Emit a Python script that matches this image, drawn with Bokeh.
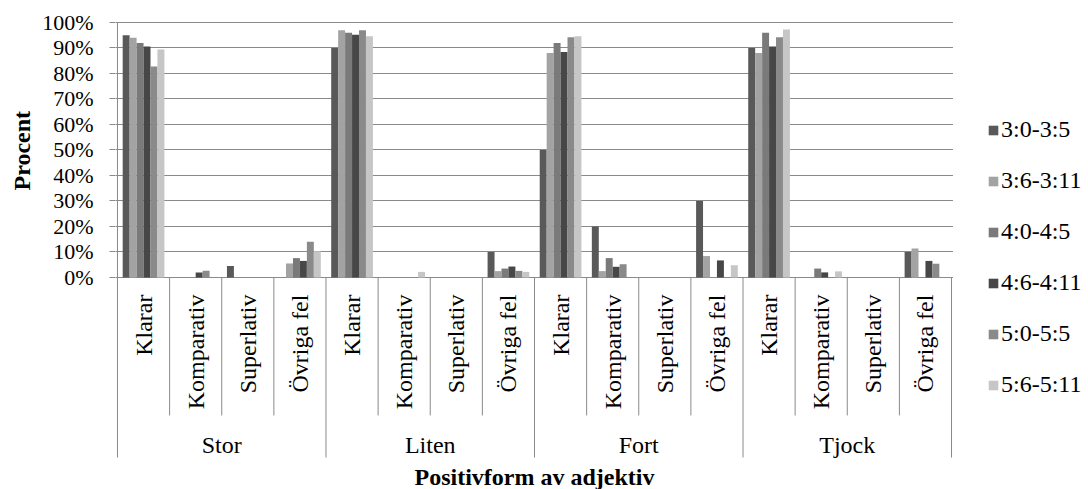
import math
from bokeh.plotting import figure
from bokeh.layouts import row
from bokeh.models import (FactorRange, Range1d, ColumnDataSource, FixedTicker,
                          PrintfTickFormatter, Legend, LegendItem, Title)
from bokeh.transform import dodge
from bokeh.core.properties import value
from bokeh.embed import file_html
from bokeh.resources import INLINE

# ---------------- data ----------------
adjectives = ["Stor", "Liten", "Fort", "Tjock"]
outcomes = ["Klarar", "Komparativ", "Superlativ", "Övriga fel"]
age_groups = ["3:0-3:5", "3:6-3:11", "4:0-4:5", "4:6-4:11", "5:0-5:5", "5:6-5:11"]

# Percent per age group; order: Stor(Klarar, Komparativ, Superlativ, Övriga fel), Liten(...), Fort(...), Tjock(...)
age_3_0 = [95.0, 0.0, 4.5, 0.0,   90.0, 0.0, 0.0, 10.0,  50.0, 20.0, 0.0, 30.0,  90.0, 0.0, 0.0, 10.0]
age_3_6 = [94.0, 0.0, 0.0, 5.5,   97.0, 0.0, 0.0, 2.5,   88.0, 2.5, 0.0, 8.4,    88.0, 0.0, 0.0, 11.4]
age_4_0 = [92.0, 0.0, 0.0, 7.6,   96.0, 0.0, 0.0, 3.5,   92.0, 7.6, 0.0, 0.0,    96.0, 3.5, 0.0, 0.0]
age_4_6 = [90.6, 2.0, 0.0, 6.5,   95.2, 0.0, 0.0, 4.3,   88.4, 4.2, 0.0, 6.7,    90.6, 2.0, 0.0, 6.5]
age_5_0 = [82.7, 2.6, 0.0, 14.0,  97.0, 0.0, 0.0, 2.6,   94.2, 5.2, 0.0, 0.0,    94.2, 0.0, 0.0, 5.4]
age_5_6 = [89.4, 0.0, 0.0, 10.3,  94.6, 2.2, 0.0, 2.2,   94.6, 0.0, 0.0, 4.8,    97.3, 2.4, 0.0, 0.0]
series = [age_3_0, age_3_6, age_4_0, age_4_6, age_5_0, age_5_6]

tick_values = [0, 10, 20, 30, 40, 50, 60, 70, 80, 90, 100]
y_title = "Procent"
x_title = "Positivform av adjektiv"

# ---------------- styles ----------------
colors = ["#595959", "#a3a3a3", "#7a7a7a", "#474747", "#8a8a8a", "#c6c6c6"]
line_gray = "#8a8a8a"
FONT = "Liberation Serif, Times New Roman, Times, serif"

factors = [(a, o) for a in adjectives for o in outcomes]

x_range = FactorRange(factors=factors, factor_padding=0, group_padding=0,
                      subgroup_padding=0, range_padding=0.038,
                      range_padding_units="absolute")

p = figure(x_range=x_range, y_range=Range1d(-83.14, 100.39),
           width=953, height=489, x_axis_location=None,
           output_backend="svg", toolbar_location=None,
           min_border_left=115, min_border_right=0,
           min_border_top=21, min_border_bottom=0)
p.outline_line_color = None
p.background_fill_color = "white"
p.border_fill_color = "white"

# bars
n = len(series)
group_width = 0.8
bw = group_width / n
for i, vals in enumerate(series):
    src = ColumnDataSource(dict(x=factors, top=vals))
    off = -group_width / 2 + bw / 2 + i * bw
    p.vbar(x=dodge("x", off, range=p.x_range), top="top", bottom=0,
           width=bw, source=src, fill_color=colors[i], line_color=None)

# y axis & grid
ticker = FixedTicker(ticks=tick_values, minor_ticks=[])
p.yaxis.ticker = ticker
p.ygrid.ticker = ticker
p.yaxis.formatter = PrintfTickFormatter(format="%d%%")
p.yaxis.axis_line_color = None
p.yaxis.major_tick_line_color = line_gray
p.yaxis.major_tick_in = 0
p.yaxis.major_tick_out = 6
p.yaxis.minor_tick_line_color = None
p.yaxis.major_label_text_font = FONT
p.yaxis.major_label_text_font_size = "22px"
p.yaxis.major_label_text_color = "black"
p.yaxis.major_label_standoff = 16
p.ygrid.grid_line_color = line_gray
p.ygrid.grid_line_width = 1
p.xgrid.visible = False

# category separators (left edge of each category) + left axis line
sep_y0 = []
sep_y1 = []
for a, o in factors:
    first = (o == outcomes[0])
    sep_y1.append(-70.6 if first else -54.1)
    sep_y0.append(100.0 if (a, o) == factors[0] else 0.0)
sep_src = ColumnDataSource(dict(x=factors, y0=sep_y0, y1=sep_y1))
p.segment(x0=dodge("x", -0.5, range=p.x_range), y0="y0",
          x1=dodge("x", -0.5, range=p.x_range), y1="y1",
          source=sep_src, line_color=line_gray, line_width=1)
end_src = ColumnDataSource(dict(x=[factors[-1]], y0=[0.0], y1=[-70.6]))
p.segment(x0=dodge("x", 0.5, range=p.x_range), y0="y0",
          x1=dodge("x", 0.5, range=p.x_range), y1="y1",
          source=end_src, line_color=line_gray, line_width=1)

# category labels
lab_src = ColumnDataSource(dict(x=factors, label=[o for a, o in factors]))
p.text(x="x", y=-6.7, text="label", source=lab_src, angle=math.pi / 2,
       text_align="right", text_baseline="middle",
       text_font=value(FONT), text_font_size="24px", text_color="black")

# group labels
grp_src = ColumnDataSource(dict(x=adjectives, label=adjectives))
p.text(x="x", y=-65.5, text="label", source=grp_src,
       text_align="center", text_baseline="middle",
       text_font=value(FONT), text_font_size="24px", text_color="black")

# x title (centered on the boundary between the 2nd and 3rd group)
xt_src = ColumnDataSource(dict(x=[(adjectives[2], outcomes[0])], label=[x_title]))
p.text(x=dodge("x", -0.5, range=p.x_range), y=-78.4, text="label", source=xt_src,
       text_align="center", text_baseline="middle",
       text_font=value(FONT), text_font_size="24px", text_font_style="bold",
       text_color="black")

# y title
p.add_layout(Title(text=y_title, align="left", offset=299,
                   text_font=FONT, text_font_size="24px", text_font_style="bold",
                   text_color="black"), "left")

# legend (separate narrow panel to the right of the plot)
lg = figure(width=135, height=489, x_axis_location=None, y_axis_location=None,
            x_range=Range1d(10, 11), y_range=Range1d(10, 11),
            output_backend="svg", toolbar_location=None,
            min_border_left=0, min_border_right=0, min_border_top=0, min_border_bottom=0)
lg.outline_line_color = None
lg.grid.visible = False
lg_renderers = []
for i in range(n):
    # swatch-only renderer (zero-height bar kept outside the visible range)
    lg_renderers.append(lg.vbar(x=[0], top=[0], bottom=[0], width=0.5,
                                fill_color=colors[i], line_color=None))
legend = Legend(items=[LegendItem(label=g, renderers=[r]) for g, r in zip(age_groups, lg_renderers)],
                location=(34, 91), orientation="vertical",
                glyph_width=12, glyph_height=12, label_standoff=2,
                spacing=24, label_height=24, padding=0, margin=0,
                border_line_color=None, background_fill_alpha=0,
                label_text_font=FONT, label_text_font_size="24px",
                label_text_color="black")
lg.add_layout(legend)

layout = row(p, lg, spacing=0)
open("out.html", "w").write(file_html(layout, INLINE))
